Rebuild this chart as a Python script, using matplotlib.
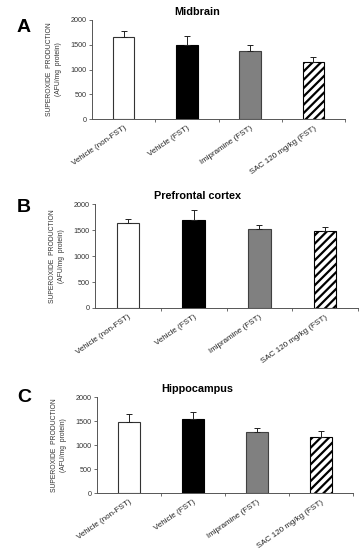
import matplotlib
matplotlib.use("Agg")
import matplotlib.pyplot as plt
import numpy as np

plt.rcParams["font.family"] = ["Liberation Sans", "DejaVu Sans"]
plt.rcParams["hatch.linewidth"] = 1.6

# ── data ──────────────────────────────────────────────────────────────────────
groups = ["Vehicle (non-FST)", "Vehicle (FST)", "Imipramine (FST)", "SAC 120 mg/kg (FST)"]
regions = ["Midbrain", "Prefrontal cortex", "Hippocampus"]
letters = ["A", "B", "C"]

midbrain = [1664, 1497, 1382, 1148]
midbrain_err = [114, 187, 108, 100]
prefrontal = [1640, 1698, 1518, 1486]
prefrontal_err = [71, 186, 77, 70]
hippocampus = [1469, 1552, 1280, 1175]
hippocampus_err = [174, 133, 77, 112]

means = [midbrain, prefrontal, hippocampus]
errs = [midbrain_err, prefrontal_err, hippocampus_err]
y_ticks = [0, 500, 1000, 1500, 2000]

# ── layout (figure fractions) ────────────────────────────────────────────────
W, H = 363, 550
boxes = [(92, 345, 20, 119), (95, 358, 204, 308), (97, 353, 397, 493)]
letter_y = [27, 207, 398]
title_y = [12, 196, 389]

face = ["white", "black", "#808080", "white"]
edge = ["#333333", "black", "#404040", "black"]
hatch = [None, None, None, "////"]

fig = plt.figure(figsize=(W / 100, H / 100), dpi=100, facecolor="white")

for i in range(3):
    l, r, t, b = boxes[i]
    ax = fig.add_axes([l / W, 1 - b / H, (r - l) / W, (b - t) / H])
    x = np.arange(len(groups))
    for j in range(len(groups)):
        ax.bar(x[j], means[i][j], width=0.34, color=face[j], edgecolor=edge[j],
               linewidth=0.8, hatch=hatch[j], zorder=2)
    ax.errorbar(x, means[i], yerr=[np.zeros(len(groups)), errs[i]], fmt="none",
                ecolor="#222222", elinewidth=0.7, capsize=2.2, capthick=0.7, zorder=3)
    ax.set_xlim(-0.5, len(groups) - 0.5)
    ax.set_ylim(0, 2000)
    ax.set_yticks(y_ticks)
    ax.set_yticklabels([str(v) for v in y_ticks], fontsize=5.2, color="#333333")
    ax.set_xticks(x)
    ax.set_xticklabels(groups, rotation=35, ha="right", rotation_mode="anchor",
                       fontsize=5.8, color="#222222")
    ax.set_xticks(np.arange(0.5, len(groups) - 0.4, 1), minor=True)
    ax.tick_params(axis="x", which="major", length=0, pad=4)
    ax.tick_params(axis="x", which="minor", length=2, width=0.6, color="#555555")
    ax.tick_params(axis="y", length=2, width=0.6, color="#555555", pad=2)
    for s in ["top", "right"]:
        ax.spines[s].set_visible(False)
    for s in ["left", "bottom"]:
        ax.spines[s].set_color("#555555")
        ax.spines[s].set_linewidth(0.7)
    ax.set_ylabel("SUPEROXIDE  PRODUCTION\n(AFU/mg  protein)", fontsize=4.9,
                  color="#333333", labelpad=6, linespacing=1.3)
    fig.text(197 / W, 1 - title_y[i] / H, regions[i], fontsize=7.8,
             fontweight="bold", ha="center", va="center")
    fig.text(24 / W, 1 - letter_y[i] / H, letters[i], fontsize=14,
             fontweight="bold", ha="center", va="center")

fig.savefig("out.png", dpi=100, facecolor="white")
